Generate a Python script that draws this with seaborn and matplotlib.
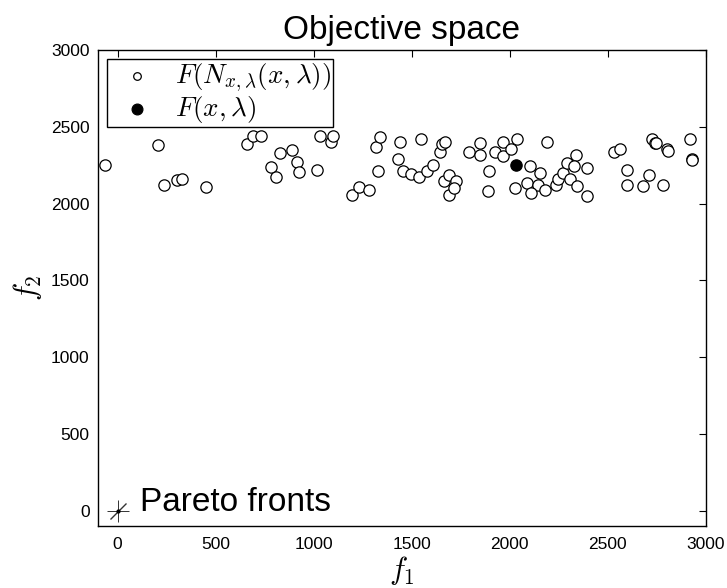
import matplotlib
matplotlib.use("Agg")
import matplotlib.pyplot as plt
import seaborn as sns
import pandas as pd

# ---- data ----
f1_neigh = [-66, 206, 235, 305, 328, 449, 662, 690, 731, 827, 889, 781, 810, 916, 923, 1019,
            1031, 1087, 1098, 1196, 1230, 1282, 1320, 1337, 1328, 1439, 1430, 1457, 1498, 1535,
            1549, 1580, 1609, 1643, 1656, 1671, 1664, 1690, 1690, 1724, 1716, 1791, 1847, 1847,
            1893, 1890, 1923, 1966, 1966, 2005, 2034, 2026, 2105, 2153, 2085, 2145, 2110, 2179,
            2190, 2233, 2247, 2272, 2289, 2306, 2337, 2328, 2340, 2391, 2391, 2532, 2561, 2595,
            2595, 2680, 2711, 2782, 2726, 2740, 2745, 2803, 2804, 2918, 2927, 2930]
f2_neigh = [2253, 2383, 2119, 2156, 2161, 2108, 2390, 2437, 2443, 2329, 2351, 2238, 2173, 2268,
            2206, 2221, 2442, 2404, 2437, 2058, 2106, 2091, 2366, 2433, 2210, 2398, 2292, 2210,
            2195, 2171, 2420, 2210, 2253, 2336, 2390, 2403, 2145, 2188, 2058, 2145, 2102, 2336,
            2394, 2314, 2210, 2082, 2336, 2401, 2312, 2357, 2422, 2102, 2242, 2199, 2134, 2123,
            2069, 2086, 2404, 2123, 2160, 2199, 2264, 2160, 2318, 2242, 2112, 2232, 2052, 2336,
            2357, 2221, 2123, 2112, 2184, 2123, 2422, 2394, 2394, 2355, 2340, 2422, 2290, 2286]
f1_current = [2031]
f2_current = [2253]
front_f1 = [0]
front_f2 = [0]
x_ticks = [0, 500, 1000, 1500, 2000, 2500, 3000]
y_ticks = [0, 500, 1000, 1500, 2000, 2500, 3000]
title = "Objective space"
front_label = "Pareto fronts"
label_neigh = r"$F(N_{x,\lambda}(x,\lambda))$"
label_current = r"$F(x,\lambda)$"

# ---- style ----
sns.set_style("white")
plt.rcParams["font.family"] = ["Liberation Sans", "DejaVu Sans"]
plt.rcParams["mathtext.fontset"] = "cm"
plt.rcParams["text.color"] = "black"
plt.rcParams["axes.labelcolor"] = "black"
plt.rcParams["xtick.color"] = "black"
plt.rcParams["ytick.color"] = "black"

fig = plt.figure(figsize=(7.27, 5.88), dpi=100)
ax = fig.add_axes([0.1348, 0.1054, 0.9711 - 0.1348, 0.915 - 0.1054])

df_n = pd.DataFrame({"f1": f1_neigh, "f2": f2_neigh})
df_c = pd.DataFrame({"f1": f1_current, "f2": f2_current})

sns.scatterplot(data=df_n, x="f1", y="f2", ax=ax, s=66, facecolor="white",
                edgecolor="black", linewidth=0.9, label=label_neigh, zorder=3)
sns.scatterplot(data=df_c, x="f1", y="f2", ax=ax, s=66, color="black",
                edgecolor="black", linewidth=0.9, label=label_current, zorder=4)

# Pareto fronts marker at origin
ax.plot(front_f1, front_f2, linestyle="none", marker="+", ms=16, mew=0.7, color="#333333", zorder=2)
ax.plot(front_f1, front_f2, linestyle="none", marker=(2, 2, -45), ms=16, mew=0.7, color="#333333", zorder=2)
ax.plot(front_f1, front_f2, linestyle="none", marker="o", ms=2, color="black", zorder=2)
ax.text(112, 0, front_label, fontsize=24, va="baseline", ha="left")

ax.set_xlim(-100, 3000)
ax.set_ylim(-100, 3000)
ax.set_xticks(x_ticks)
ax.set_yticks(y_ticks)
ax.tick_params(axis="both", which="both", direction="in", length=5, width=0.8,
               labelsize=12.5, top=True, right=True, colors="black")
ax.tick_params(axis="x", pad=8)
ax.tick_params(axis="y", pad=6)
for sp in ax.spines.values():
    sp.set_visible(True)
    sp.set_color("black")
    sp.set_linewidth(1.0)

ax.set_xlabel(r"$f_1$", fontsize=22, labelpad=1)
ax.set_ylabel(r"$f_2$", fontsize=22, labelpad=5)
ax.set_title(title, fontsize=24, pad=8, color="black")

leg = ax.legend(loc="upper left", fontsize=19.5, frameon=True, fancybox=False,
                edgecolor="black", framealpha=1, borderaxespad=0.35,
                handletextpad=0.4, handlelength=2.0, borderpad=0.08,
                labelspacing=0.0)
leg.get_frame().set_linewidth(1.0)
hs = leg.legend_handles
hs[0].set_sizes([30])
hs[1].set_sizes([60])

fig.savefig("out.png", dpi=100)
